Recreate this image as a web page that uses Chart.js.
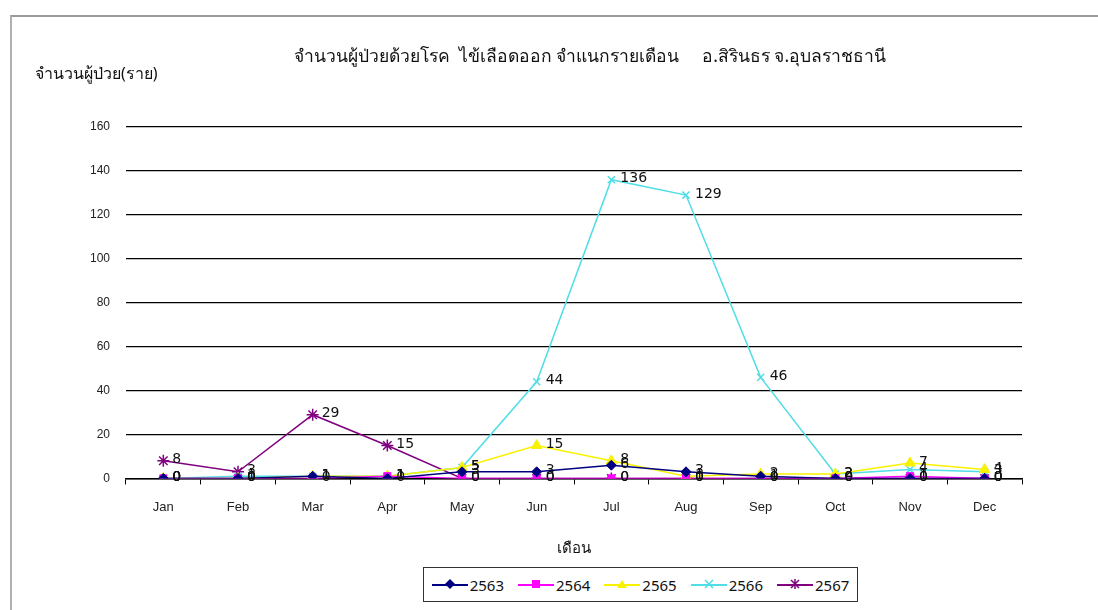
<!DOCTYPE html>
<html>
<head>
<meta charset="utf-8">
<script src="https://cdn.jsdelivr.net/npm/chart.js@4/dist/chart.umd.min.js"></script>
<style>
  body { margin: 0; background: #fff; font-family: Tahoma, "Noto Sans", "DejaVu Sans", sans-serif; }
  #wrap { position: relative; width: 1098px; height: 610px; overflow: hidden; }
  #frame { position: absolute; left: 10px; top: 15px; right: -2px; bottom: -2px;
           border-top: 2px solid #9a9a9a; border-left: 2px solid #b0b0b0; }
  #chartBox { position: absolute; left: 0; top: 0; width: 1098px; height: 610px; }
  #title { position: absolute; left: 240px; width: 700px; top: 42px; text-align: center;
           font-size: 17.5px; color: #111; white-space: pre; }
  #ytitle { position: absolute; left: 35px; top: 61px; font-size: 16px; color: #111; }
  #legend { position: absolute; left: 423px; top: 567px; width: 433px; height: 33px;
            border: 1.5px solid #333; display: flex; align-items: center; justify-content: center;
            gap: 14px; font-size: 15px; color: #111; background: #fff; }
  .legend-item { display: flex; align-items: center; }
  .legend-line { position: relative; width: 36px; height: 2px; margin-right: 2px; }
  .legend-mark { position: absolute; left: 13px; top: -5px; width: 10px; height: 10px; }
</style>
</head>
<body>
<div id="wrap">
  <div id="frame"></div>
  <div id="chartBox"><canvas id="denguechart" width="1098" height="610"></canvas></div>
  <div id="title">จำนวนผู้ป่วยด้วยโรค  ไข้เลือดออก จำแนกรายเดือน     อ.สิรินธร จ.อุบลราชธานี</div>
  <div id="ytitle">จำนวนผู้ป่วย(ราย)</div>
  <div id="legend"></div>
</div>
<script>
var months = ["Jan", "Feb", "Mar", "Apr", "May", "Jun", "Jul", "Aug", "Sep", "Oct", "Nov", "Dec"];
var years = ["2563", "2564", "2565", "2566", "2567"];

var cases2563 = [0, 0, 1, 0, 3, 3, 6, 3, 1, 0, 0, 0];
var cases2564 = [0, 0, 0, 1, 0, 0, 0, 0, 0, 0, 1, 0];
var cases2565 = [0, 0, 1, 1, 5, 15, 8, 1, 2, 2, 7, 4];
var cases2566 = [0, 1, 1, 1, 5, 44, 136, 129, 46, 2, 4, 3];
var cases2567 = [8, 3, 29, 15, 0, 0, 0, 0, 0, 0, 0, 0];

var yTicks = [0, 20, 40, 60, 80, 100, 120, 140, 160];

var seriesColors = ["#000080", "#ff00ff", "#f8f200", "#4fdde6", "#800080"];
var pointStyles = ["rectRot", "rect", "triangle", "crossRot", "star"];
var pointSizes = [5, 5, 6, 5, 6];

var allCases = [cases2563, cases2564, cases2565, cases2566, cases2567];

var datasets = years.map(function (year, i) {
  return {
    label: year,
    data: allCases[i],
    borderColor: seriesColors[i],
    backgroundColor: seriesColors[i],
    borderWidth: 1.5,
    pointStyle: pointStyles[i],
    pointRadius: pointSizes[i],
    pointBorderWidth: pointStyles[i] == "crossRot" || pointStyles[i] == "star" ? 1.5 : 1,
    tension: 0,
  };
});

// value labels to the right of every point, like the excel chart
const valueLabels = {
  id: "valueLabels",
  afterDatasetsDraw(chart) {
    const ctx = chart.ctx;
    ctx.save();
    ctx.font = "14px Tahoma, 'DejaVu Sans', sans-serif";
    ctx.fillStyle = "#111";
    ctx.textAlign = "left";
    ctx.textBaseline = "middle";
    chart.data.datasets.forEach(function (ds, i) {
      chart.getDatasetMeta(i).data.forEach(function (pt, j) {
        ctx.fillText(String(ds.data[j]), pt.x + 9, pt.y - 1);
      });
    });
    ctx.restore();
  },
};

new Chart(document.getElementById("denguechart"), {
  type: "line",
  data: { labels: months, datasets: datasets },
  options: {
    responsive: false,
    animation: false,
    layout: { padding: { left: 80, right: 76, top: 127, bottom: 48 } },
    plugins: {
      legend: { display: false },
      tooltip: { enabled: false },
    },
    scales: {
      x: {
        offset: true,
        grid: { display: true, offset: true, drawOnChartArea: false, drawTicks: true, tickLength: 6, color: "#000" },
        border: { display: true, color: "#000", width: 1.5 },
        ticks: { color: "#222", font: { size: 13 }, padding: 15 },
        title: { display: true, text: "เดือน", color: "#111", font: { size: 15 }, padding: { top: 10 } },
      },
      y: {
        min: 0,
        max: 160,
        afterBuildTicks: function (scale) {
          scale.ticks = yTicks.map(function (v) { return { value: v }; });
        },
        afterFit: function (scale) { scale.width = 46; },
        grid: { color: "#000", lineWidth: 1.2, drawTicks: false },
        border: { display: false },
        ticks: { color: "#222", font: { size: 12 }, padding: 16 },
      },
    },
  },
  plugins: [valueLabels],
});

// legend in html, line with marker
function markSvg(style, color) {
  if (style == "rectRot") return '<svg class="legend-mark" viewBox="0 0 10 10"><polygon points="5,0 10,5 5,10 0,5" fill="' + color + '"/></svg>';
  if (style == "rect") return '<svg class="legend-mark" viewBox="0 0 10 10"><rect x="1" y="1" width="8" height="8" fill="' + color + '"/></svg>';
  if (style == "triangle") return '<svg class="legend-mark" viewBox="0 0 10 10"><polygon points="5,1 10,9 0,9" fill="' + color + '"/></svg>';
  if (style == "crossRot") return '<svg class="legend-mark" viewBox="0 0 10 10"><path d="M1,1 L9,9 M9,1 L1,9" stroke="' + color + '" stroke-width="1.5"/></svg>';
  return '<svg class="legend-mark" viewBox="0 0 10 10"><path d="M1,1 L9,9 M9,1 L1,9 M5,0 L5,10" stroke="' + color + '" stroke-width="1.5"/></svg>';
}
var legendContainer = document.getElementById("legend");
years.forEach(function (year, i) {
  var item = document.createElement("div");
  item.className = "legend-item";
  item.innerHTML = '<span class="legend-line" style="background:' + seriesColors[i] + '">' +
    markSvg(pointStyles[i], seriesColors[i]) + "</span>" + year;
  legendContainer.appendChild(item);
});
</script>
</body>
</html>
